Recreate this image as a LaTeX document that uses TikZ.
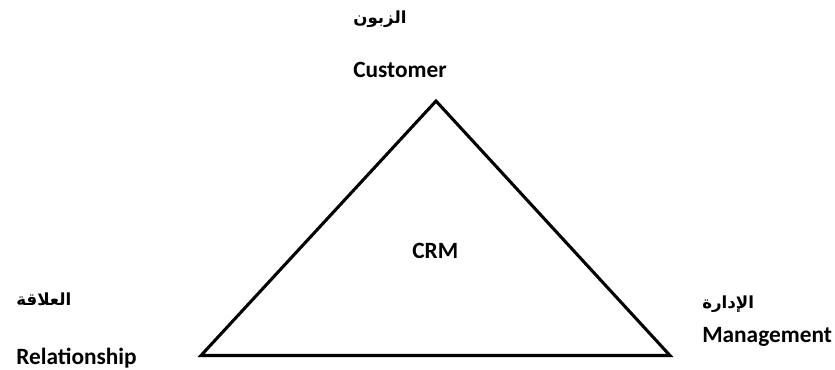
\documentclass[tikz,border=0pt]{standalone}
\usepackage{fontspec}
\setmainfont{Carlito}
\newfontfamily\arabicfont[Script=Arabic]{DejaVu Sans}
\TeXXeTstate=1
\tikzset{
  side/.style={line width=2.3pt, line join=miter},
  lbl/.style={anchor=base west, inner sep=0pt, font=\fontsize{17.5}{20}\selectfont\bfseries},
  arlbl/.style={anchor=base west, inner sep=0pt, font=\fontsize{12.5}{14}\selectfont\bfseries\arabicfont},
}
\begin{document}
\begin{tikzpicture}[x=0.75pt,y=-0.75pt]
  \useasboundingbox (0,0) rectangle (835,369);
  % corners of the triangle
  \coordinate (top) at (436,101);
  \coordinate (left) at (201,355.5);
  \coordinate (right) at (670,355.5);
  \draw[side] (top) -- (right) -- (left) -- cycle;
  \node[lbl] (crm) at (412,258) {CRM};
  % labels at the corners
  \node[lbl] (customer) at (353,77) {Customer};
  \node[arlbl] (customer-ar) at (353,23) {\beginR الزبون\endR};
  \node[lbl] (relationship) at (16,364) {Relationship};
  \node[arlbl] (relationship-ar) at (16,305) {\beginR العلاقة\endR};
  \node[lbl] (management) at (702,342) {Management};
  \node[arlbl] (management-ar) at (702,308) {\beginR الإدارة\endR};
\end{tikzpicture}
\end{document}
